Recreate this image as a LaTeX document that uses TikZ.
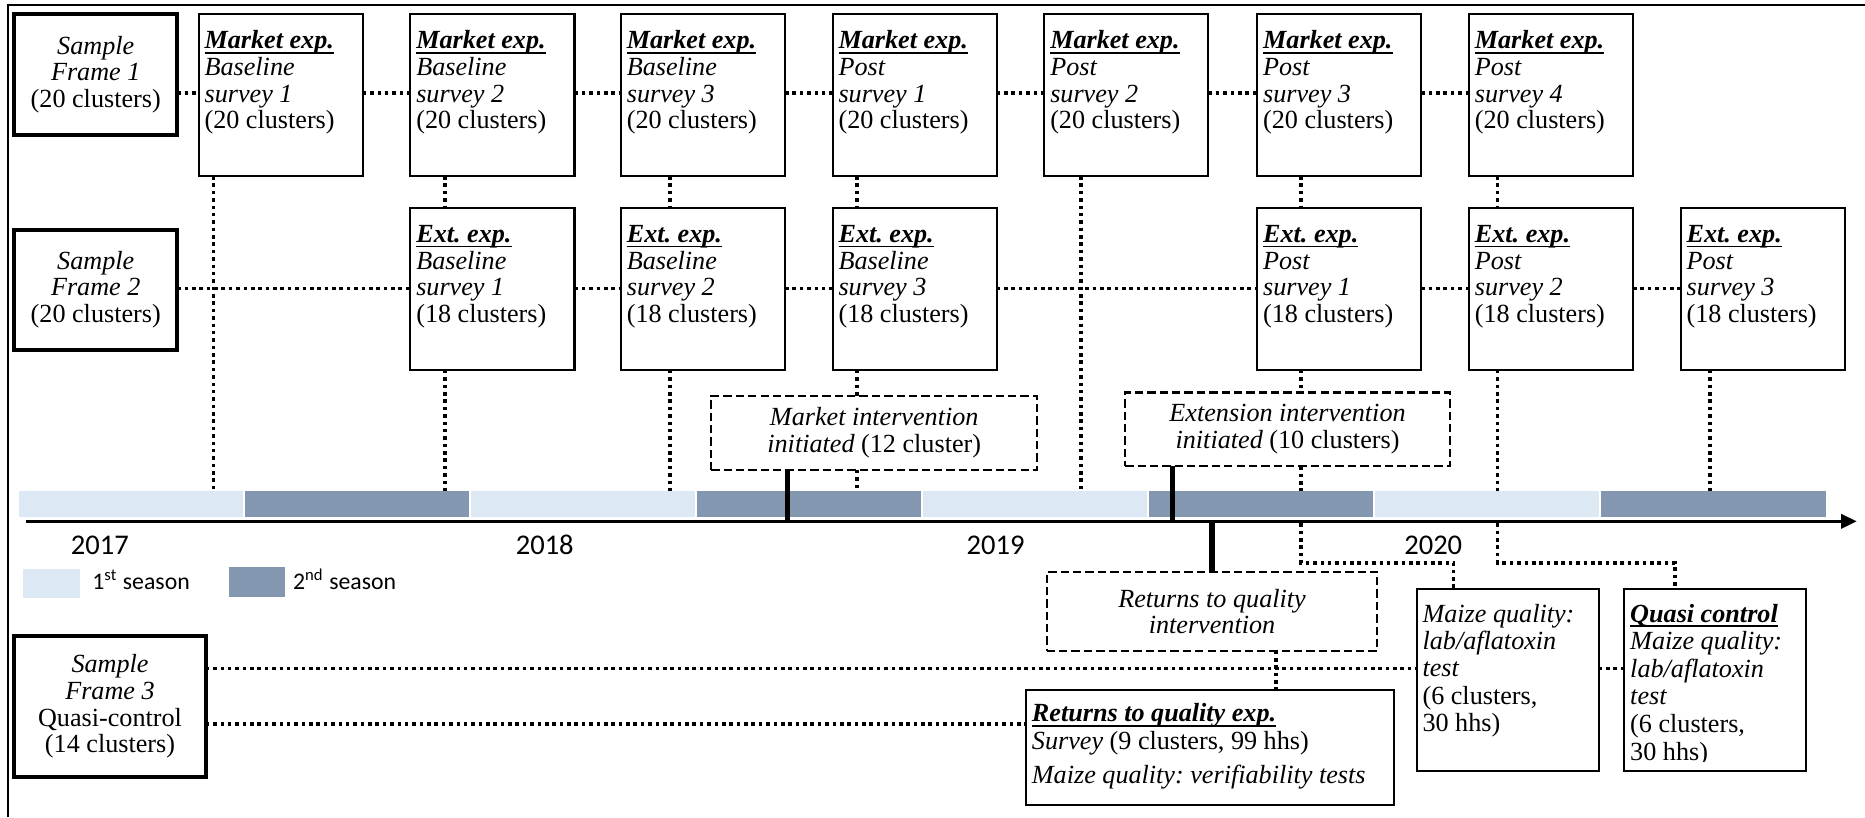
\documentclass[tikz,border=0pt]{standalone}
\usepackage{fontspec}
\setmainfont{Liberation Serif}
\newfontfamily\calfont{Carlito}
\usetikzlibrary{arrows.meta}
\frenchspacing
\definecolor{lightseason}{RGB}{221,232,245}
\definecolor{darkseason}{RGB}{132,151,176}
\newcommand\myul[1]{\setbox0=\hbox{#1}\rlap{\rule[-2pt]{\wd0}{0.8pt}}\box0}
\newcommand\hd[1]{\textbf{\textit{\myul{#1}}}}
\newcommand\tlbox[5]{\parbox[t][#2][t]{#1}{\parindent=0pt\raggedright\leftskip=2.5pt\relax\fontsize{11pt}{#4}\selectfont\frenchspacing\rule{0pt}{#3}#5\par}}
\begin{document}
\begin{tikzpicture}[x=0.5pt,y=-0.5pt,
  every node/.style={inner sep=0pt, outer sep=0pt, font=\fontsize{11pt}{11.2pt}\selectfont},
  sbox/.style={draw, line width=1.7pt, align=center, anchor=north west},
  ebox/.style={draw, line width=0.85pt, anchor=north west},
  ibox/.style={draw, line width=0.9pt, dash pattern=on 3.5pt off 1.7pt, align=center, anchor=north west},
  dots/.style={line width=1.6pt, dash pattern=on 1.5pt off 1.6pt},
  marker/.style={line width=2.2pt},
  year/.style={font=\calfont\fontsize{12pt}{14pt}\selectfont, anchor=base},
  legend/.style={font=\calfont\fontsize{10pt}{12pt}\selectfont, anchor=base west},
  ]
\useasboundingbox (0,0) rectangle (1568,687);
% frame
\draw[line width=0.9pt] (7,687) -- (7,4.5) -- (1568,4.5);

% timeline bars
\fill[lightseason] (16,412.8) rectangle (204,434.4);
\fill[darkseason] (206,412.8) rectangle (394,434.4);
\fill[lightseason] (396,412.8) rectangle (584,434.4);
\fill[darkseason] (586,412.8) rectangle (774,434.4);
\fill[lightseason] (776,412.8) rectangle (964,434.4);
\fill[darkseason] (966,412.8) rectangle (1154,434.4);
\fill[lightseason] (1156,412.8) rectangle (1344,434.4);
\fill[darkseason] (1346,412.8) rectangle (1535,434.4);
\coordinate (ax0) at (22,438.3);
\coordinate (ax1) at (1561,438.3);
\draw[line width=1.1pt, -{Triangle[length=6.5pt,width=6pt]}] (ax0) -- (ax1);

% years
\node[year] (y2017) at (84,466.5) {2017};
\node[year] (y2018) at (458,466.5) {2018};
\node[year] (y2019) at (837,466.5) {2019};
\node[year] (y2020) at (1205,466.5) {2020};

% legend
\fill[lightseason] (19.5,478.5) rectangle (67,503);
\node[legend] (l1) at (77.7,495.4) {1\textsuperscript{st} season};
\fill[darkseason] (192.6,476.6) rectangle (240,502);
\node[legend] (l2) at (246.5,495.4) {2\textsuperscript{nd} season};

% sample frames
\node[sbox, minimum width=68.5pt, minimum height=50.75pt] (sf1) at (12,12) {\textit{Sample}\\\textit{Frame 1}\\(20 clusters)};
\node[sbox, minimum width=68.5pt, minimum height=50.5pt] (sf2) at (12,193) {\textit{Sample}\\\textit{Frame 2}\\(20 clusters)};
\node[sbox, minimum width=80.5pt, minimum height=59pt] (sf3) at (12,535) {\textit{Sample}\\\textit{Frame 3}\\Quasi-control\\(14 clusters)};

% market row
\node[ebox] (m1) at (167,12) {\tlbox{69pt}{68pt}{14.5pt}{11.2pt}{\hd{Market exp.}\\\textit{Baseline}\\\textit{survey 1}\\(20 clusters)}};
\node[ebox] (m2) at (345,12) {\tlbox{69pt}{68pt}{14.5pt}{11.2pt}{\hd{Market exp.}\\\textit{Baseline}\\\textit{survey 2}\\(20 clusters)}};
\node[ebox] (m3) at (522,12) {\tlbox{69pt}{68pt}{14.5pt}{11.2pt}{\hd{Market exp.}\\\textit{Baseline}\\\textit{survey 3}\\(20 clusters)}};
\node[ebox] (m4) at (700,12) {\tlbox{69pt}{68pt}{14.5pt}{11.2pt}{\hd{Market exp.}\\\textit{Post}\\\textit{survey 1}\\(20 clusters)}};
\node[ebox] (m5) at (878,12) {\tlbox{69pt}{68pt}{14.5pt}{11.2pt}{\hd{Market exp.}\\\textit{Post}\\\textit{survey 2}\\(20 clusters)}};
\node[ebox] (m6) at (1057,12) {\tlbox{69pt}{68pt}{14.5pt}{11.2pt}{\hd{Market exp.}\\\textit{Post}\\\textit{survey 3}\\(20 clusters)}};
\node[ebox] (m7) at (1235,12) {\tlbox{69pt}{68pt}{14.5pt}{11.2pt}{\hd{Market exp.}\\\textit{Post}\\\textit{survey 4}\\(20 clusters)}};

% extension row
\node[ebox] (e2) at (345,175) {\tlbox{69pt}{68pt}{14.5pt}{11.2pt}{\hd{Ext. exp.}\\\textit{Baseline}\\\textit{survey 1}\\(18 clusters)}};
\node[ebox] (e3) at (522,175) {\tlbox{69pt}{68pt}{14.5pt}{11.2pt}{\hd{Ext. exp.}\\\textit{Baseline}\\\textit{survey 2}\\(18 clusters)}};
\node[ebox] (e4) at (700,175) {\tlbox{69pt}{68pt}{14.5pt}{11.2pt}{\hd{Ext. exp.}\\\textit{Baseline}\\\textit{survey 3}\\(18 clusters)}};
\node[ebox] (e6) at (1057,175) {\tlbox{69pt}{68pt}{14.5pt}{11.2pt}{\hd{Ext. exp.}\\\textit{Post}\\\textit{survey 1}\\(18 clusters)}};
\node[ebox] (e7) at (1235,175) {\tlbox{69pt}{68pt}{14.5pt}{11.2pt}{\hd{Ext. exp.}\\\textit{Post}\\\textit{survey 2}\\(18 clusters)}};
\node[ebox] (e8) at (1413,175) {\tlbox{69pt}{68pt}{14.5pt}{11.2pt}{\hd{Ext. exp.}\\\textit{Post}\\\textit{survey 3}\\(18 clusters)}};

% interventions
\node[ibox, minimum width=137pt, minimum height=31pt] (mi) at (598,333) {\textit{Market intervention}\\\textit{initiated} (12 cluster)};
\node[ibox, minimum width=136.5pt, minimum height=31pt] (ei) at (946,330) {\textit{Extension intervention}\\\textit{initiated} (10 clusters)};
\node[ibox, minimum width=139pt, minimum height=33pt] (ri) at (880,481) {\textit{Returns to quality}\\\textit{intervention}};

% bottom boxes
\node[ebox] (rq) at (862.6,580) {\tlbox{154.5pt}{48.5pt}{13.4pt}{11.2pt}{\hd{Returns to quality exp.}\\[0.5pt]\textit{Survey} (9 clusters, 99 hhs)\\[3pt]\textit{Maize quality: verifiability tests}}};
\node[ebox] (mq) at (1191,495) {\tlbox{76.5pt}{76.5pt}{14pt}{11.5pt}{\textit{Maize quality:}\\\textit{lab/aflatoxin}\\\textit{test}\\(6 clusters,\\30 hhs)}};
\begin{scope}
\clip (1355,485) rectangle (1530,640.5);
\node[ebox] (qc) at (1365.6,495) {\tlbox{76.5pt}{76.5pt}{14pt}{11.6pt}{\hd{Quasi control}\\\textit{Maize quality:}\\\textit{lab/aflatoxin}\\\textit{test}\\(6 clusters,\\30 hhs)}};
\end{scope}
\draw[line width=0.85pt] (qc.south west) rectangle (qc.north east);

% helper coordinates
\coordinate (x1) at (179.5,412.8);
\coordinate (x2) at (374,412.8);
\coordinate (x3) at (563,412.8);
\coordinate (x4) at (720.6,412.8);
\coordinate (x5) at (909,412.8);
\coordinate (x6) at (1093.6,412.8);
\coordinate (x7) at (1259,412.8);
\coordinate (x8) at (1438,412.8);
\coordinate (r1) at (0,78.5);
\coordinate (r2) at (0,242.5);
\coordinate (r3) at (0,562);
\coordinate (r4) at (0,609);
\coordinate (y6) at (1093.6,440);
\coordinate (y7) at (1259,440);
\coordinate (q1) at (1222,473);
\coordinate (q2) at (1408,473);
\coordinate (pm) at (662,438.3);
\coordinate (pe) at (986,438.3);
\coordinate (pr) at (1019,438.3);
\coordinate (pq) at (1073,0);

% vertical dotted connectors
\draw[dots] (m1.south -| x1) -- (x1);
\draw[dots] (m2.south -| x2) -- (e2.north -| x2);
\draw[dots] (e2.south -| x2) -- (x2);
\draw[dots] (m3.south -| x3) -- (e3.north -| x3);
\draw[dots] (e3.south -| x3) -- (x3);
\draw[dots] (m4.south -| x4) -- (e4.north -| x4);
\draw[dots] (e4.south -| x4) -- (mi.north -| x4);
\draw[dots] (mi.south -| x4) -- (x4);
\draw[dots] (m5.south -| x5) -- (x5);
\draw[dots] (m6.south -| x6) -- (e6.north -| x6);
\draw[dots] (e6.south -| x6) -- (ei.north -| x6);
\draw[dots] (ei.south -| x6) -- (x6);
\draw[dots] (m7.south -| x7) -- (e7.north -| x7);
\draw[dots] (e7.south -| x7) -- (x7);
\draw[dots] (e8.south -| x8) -- (x8);
\draw[dots] (y6) |- (q1) -- (mq.north -| q1);
\draw[dots] (y7) |- (q2) -- (qc.north -| q2);
\draw[dots] (ri.south -| pq) -- (rq.north -| pq);

% markers
\draw[marker] (mi.south -| pm) -- (pm);
\draw[marker] (ei.south -| pe) -- (pe);
\draw[marker] (pr) -- (ri.north -| pr);

% horizontal dotted connectors
\draw[dots] (sf1.east |- r1) -- (m1.west |- r1);
\draw[dots] (m1.east |- r1) -- (m2.west |- r1);
\draw[dots] (m2.east |- r1) -- (m3.west |- r1);
\draw[dots] (m3.east |- r1) -- (m4.west |- r1);
\draw[dots] (m4.east |- r1) -- (m5.west |- r1);
\draw[dots] (m5.east |- r1) -- (m6.west |- r1);
\draw[dots] (m6.east |- r1) -- (m7.west |- r1);
\draw[dots] (sf2.east |- r2) -- (e2.west |- r2);
\draw[dots] (e2.east |- r2) -- (e3.west |- r2);
\draw[dots] (e3.east |- r2) -- (e4.west |- r2);
\draw[dots] (e4.east |- r2) -- (e6.west |- r2);
\draw[dots] (e6.east |- r2) -- (e7.west |- r2);
\draw[dots] (e7.east |- r2) -- (e8.west |- r2);
\draw[dots] (sf3.east |- r3) -- (mq.west |- r3);
\draw[dots] (mq.east |- r3) -- (qc.west |- r3);
\draw[dots] (sf3.east |- r4) -- (rq.west |- r4);
\end{tikzpicture}
\end{document}
